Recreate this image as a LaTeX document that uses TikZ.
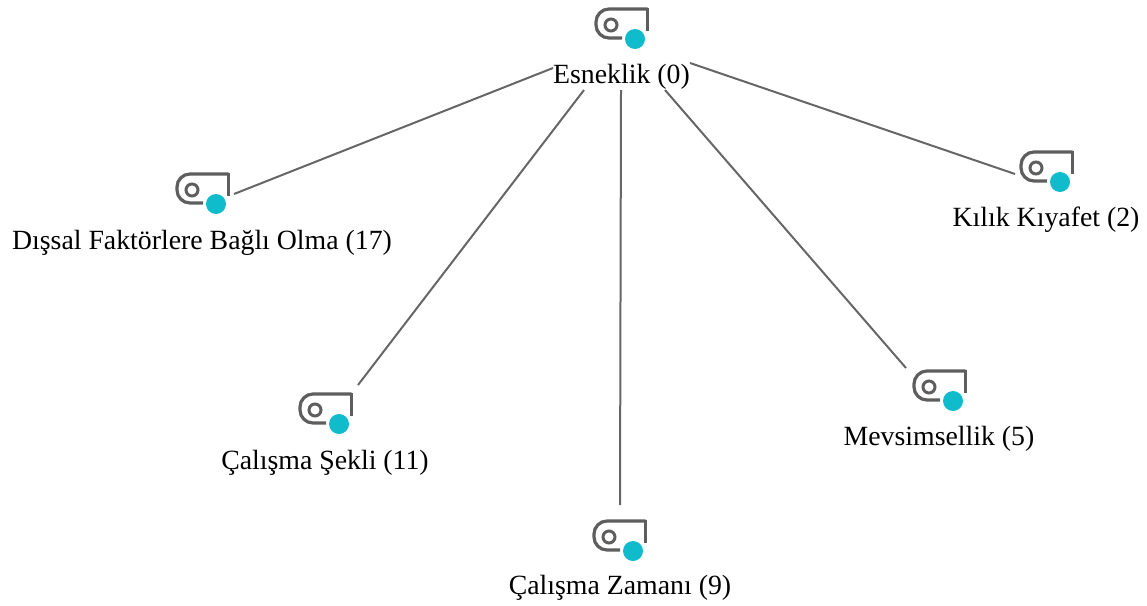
\documentclass[tikz,border=0pt]{standalone}
\usepackage{fontspec}
\setmainfont{Liberation Serif}
\definecolor{ink}{HTML}{5E5E5E}
\definecolor{linkink}{HTML}{666666}
\definecolor{teal}{HTML}{10BCCC}
\tikzset{
  x=1pt,y=-1pt,
  label text/.style={inner sep=0pt,font=\fontsize{27.8}{32}\selectfont,text=black},
  link/.style={draw=linkink,line width=2pt},
  icon/.pic={
    \draw[ink,line width=3.2pt,rounded corners=13pt] (12.5,-30) -- (-39,-30) -- (-39,-1) -- (-13,-1);
    \draw[ink,line width=3.2pt] (12.5,-30.8) -- (12.5,-8);
    \draw[ink,line width=3pt] (-24,-14) circle (6);
    \fill[white] (0,0) circle (12.5);
    \fill[teal] (0,0) circle (10);
  }
}
\begin{document}
\begin{tikzpicture}
\useasboundingbox (0,0) rectangle (1147,605);
\pic at (635,39) {icon};
\pic at (216,204) {icon};
\pic at (339,424) {icon};
\pic at (633,551) {icon};
\pic at (953,401) {icon};
\pic at (1060,182) {icon};
\node[label text] (root) at (621.5,76.5) {Esneklik (0)};
\node[label text] (dis) at (202,242.5) {Dışsal Faktörlere Bağlı Olma (17)};
\node[label text] (sekli) at (325,462.5) {Çalışma Şekli (11)};
\node[label text] (zaman) at (620,587.5) {Çalışma Zamanı (9)};
\node[label text] (mevsim) at (939,438.5) {Mevsimsellik (5)};
\node[label text] (kilik) at (1046,219.5) {Kılık Kıyafet (2)};
\coordinate (r1) at (553,68);
\coordinate (r2) at (584,90);
\coordinate (r3) at (621,90);
\coordinate (r4) at (665,90);
\coordinate (r5) at (690,63);
\coordinate (t1) at (234,194);
\coordinate (t2) at (358,385);
\coordinate (t3) at (620,505);
\coordinate (t4) at (906,368);
\coordinate (t5) at (1015,174);
\draw[link] (r1) -- (t1);
\draw[link] (r2) -- (t2);
\draw[link] (r3) -- (t3);
\draw[link] (r4) -- (t4);
\draw[link] (r5) -- (t5);
\end{tikzpicture}
\end{document}
